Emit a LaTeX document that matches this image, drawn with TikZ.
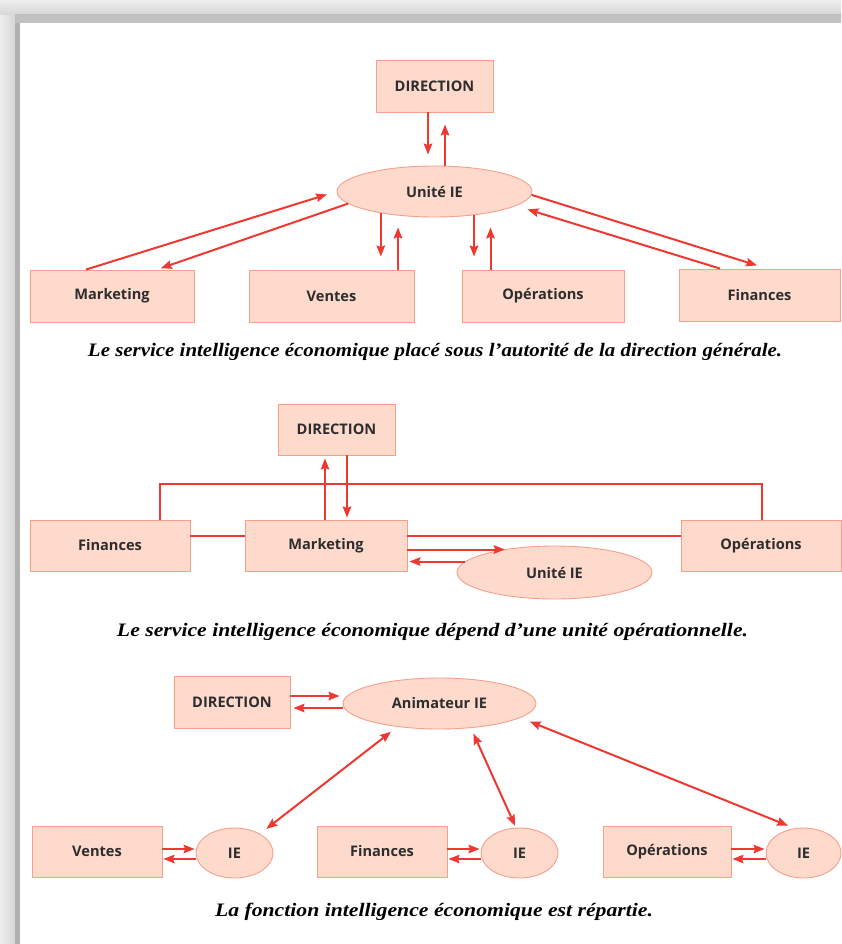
\documentclass[tikz,border=0pt]{standalone}
\usepackage{fontspec}
\usepackage{graphicx}
\setmainfont{Liberation Serif}
\setsansfont{Open Sans}
\usetikzlibrary{arrows.meta,shapes.geometric}

\definecolor{boxfill}{RGB}{253,218,204}
\definecolor{boxline}{RGB}{246,160,140}
\definecolor{linkred}{RGB}{238,56,50}
\definecolor{labelgray}{RGB}{45,45,45}
\definecolor{shadelight}{RGB}{238,238,238}
\definecolor{shademid}{RGB}{214,214,214}
\definecolor{shadedark}{RGB}{176,176,176}

% caption line stretched to a given width, natural height kept
\newcommand{\capline}[2]{\resizebox{#1}{\height}{#2}}

\tikzset{
  unit/.style={draw=boxline, fill=boxfill, line width=0.9pt, text=labelgray,
    font=\sffamily\bfseries\fontsize{14.6}{16}\selectfont, inner sep=0pt},
  dept/.style={unit, rectangle, minimum width=#1, minimum height=52pt},
  cell/.style 2 args={unit, ellipse, minimum width=#1, minimum height=#2},
  link/.style={draw=linkred, line width=2pt},
  tip/.tip={Stealth[length=11pt,width=8.5pt,inset=1.5pt]},
  arr/.style={link, -tip},
  darr/.style={link, tip-tip},
  caption/.style={font=\bfseries\itshape\fontsize{19}{21}\selectfont, text=black, inner sep=0pt}
}

\begin{document}
\begin{tikzpicture}[x=1pt,y=-1pt]
\useasboundingbox (0,0) rectangle (841,944);

% page frame with its drop shadow
\fill[shadelight] (0,0) rectangle (841,944);
\shade[left color=shadelight, right color=shademid] (0,0) rectangle (15,944);
\shade[top color=shadelight, bottom color=shademid] (0,0) rectangle (841,15);
\fill[shadedark] (15,15) rectangle (20,944);
\shade[top color=shadedark!80, bottom color=shadedark!110!black] (15,15) rectangle (841,23);
\fill[white] (20,23) rectangle (841,944);

% ---------- first organisation ----------
\node[dept=117pt] (d1) at (434.5,86) {DIRECTION};
\node[cell={195pt}{51pt}] (u1) at (434.5,191.5) {Unité IE};
\node[dept=164pt] (m1) at (112,296) {Marketing};
\node[dept=165pt] (v1) at (331.5,296) {Ventes};
\node[dept=162pt] (o1) at (543,296) {Opérations};
\node[dept=161pt] (f1) at (759.5,295) {Finances};

\coordinate (d1dn) at ([xshift=-6.5pt]d1.south);
\coordinate (d1up) at ([xshift=10.5pt]d1.south);
\draw[arr, shorten >=11pt] (d1dn) -- (d1dn |- u1.north);
\draw[arr, shorten >=12pt] (d1up |- u1.north) -- (d1up);

\draw[arr, shorten >=10pt] ([xshift=-26pt]m1.north) -- (u1.west);
\draw[arr, shorten >=4pt] (u1.188) -- ([xshift=45pt]m1.north);

\coordinate (v1up) at ([xshift=66.5pt]v1.north);
\draw[arr, shorten >=13pt] (u1.202) -- (u1.202 |- v1.north);
\draw[arr, shorten >=10pt] (v1up) -- (v1up |- u1.south);

\coordinate (o1up) at ([xshift=-52.5pt]o1.north);
\draw[arr, shorten >=13pt] (u1.-31) -- (u1.-31 |- o1.north);
\draw[arr, shorten >=10pt] (o1up) -- (o1up |- u1.south);

\draw[arr, shorten >=10.5pt] (u1.-2) -- ([xshift=7.5pt]f1.north);
\draw[arr, shorten >=12pt] ([xshift=-39.5pt]f1.north) -- (u1.-10);

\node[caption] (c1) at (435,352) {\capline{694pt}{Le service intelligence économique placé sous l’autorité de la direction générale.}};

% ---------- second organisation ----------
\node[dept=117pt, minimum height=51pt] (d2) at (336.5,429.5) {DIRECTION};
\node[dept=160pt, minimum height=51pt] (f2) at (110,545.5) {Finances};
\node[dept=162pt, minimum height=51pt] (m2) at (326,545.5) {Marketing};
\node[dept=160pt, minimum height=51pt] (o2) at (761,545.5) {Opérations};
\node[cell={195pt}{53pt}] (u2) at (554.5,572.5) {Unité IE};

\coordinate (bus) at (0,484);
\coordinate (f2t) at ([xshift=50pt]f2.north);
\coordinate (o2t) at ([xshift=1pt]o2.north);
\draw[link] (f2t) -- (f2t |- bus) -- (o2t |- bus) -- (o2t);

\draw[link] ([yshift=9.5pt]f2.east) -- ([yshift=9.5pt]m2.west);
\draw[link] ([yshift=9.5pt]m2.east) -- ([yshift=9.5pt]o2.west);

\coordinate (m2up) at ([xshift=-1pt]m2.north);
\coordinate (d2dn) at ([xshift=10.5pt]d2.south);
\draw[arr, shorten >=3pt] (m2up) -- (m2up |- d2.south);
\draw[arr, shorten >=2pt] (d2dn) -- (d2dn |- m2.north);

\coordinate (m2o) at ([yshift=-4pt]m2.east);
\coordinate (m2i) at ([yshift=-16pt]m2.east);
\draw[arr] (m2o) -- (m2o -| u2.155);
\draw[arr, shorten >=2pt] (m2i -| u2.173) -- (m2i);

\node[caption] (c2) at (432.5,632) {\capline{631pt}{Le service intelligence économique dépend d’une unité opérationnelle.}};

% ---------- third organisation ----------
\node[dept=116pt] (d3) at (232,702) {DIRECTION};
\node[cell={193pt}{51pt}] (a3) at (439.5,703.5) {Animateur IE};
\node[dept=130pt, minimum height=51pt] (v3) at (97,851.5) {Ventes};
\node[cell={77pt}{50pt}] (ie1) at (234.5,853) {IE};
\node[dept=130pt, minimum height=51pt] (f3) at (382,851.5) {Finances};
\node[cell={77pt}{50pt}] (ie2) at (519.5,853) {IE};
\node[dept=128pt, minimum height=51pt] (o3) at (667,851.5) {Opérations};
\node[cell={75pt}{50pt}] (ie3) at (803.5,853) {IE};

\coordinate (d3o) at ([yshift=6pt]d3.east);
\coordinate (d3i) at ([yshift=-6pt]d3.east);
\draw[arr, shorten >=3pt] (d3o) -- (d3o -| a3.west);
\draw[arr, shorten >=3pt] (d3i -| a3.west) -- (d3i);

\draw[darr, shorten <=8pt, shorten >=8pt] (ie1.37) -- (a3.209);
\draw[darr, shorten <=2pt, shorten >=6pt] (ie2.98) -- (a3.-38);
\draw[darr, shorten <=7pt, shorten >=10pt] (ie3.110) -- (a3.-10);

\foreach \b/\e in {v3/ie1, f3/ie2, o3/ie3} {
  \coordinate (\b o) at ([yshift=2.5pt]\b.east);
  \coordinate (\b i) at ([yshift=-7.5pt]\b.east);
  \draw[arr, shorten >=1pt] (\b o) -- (\b o -| \e.west);
  \draw[arr, shorten >=1pt] (\b i -| \e.west) -- (\b i);
}

\node[caption] (c3) at (434,912) {\capline{438pt}{La fonction intelligence économique est répartie.}};
\end{tikzpicture}
\end{document}
